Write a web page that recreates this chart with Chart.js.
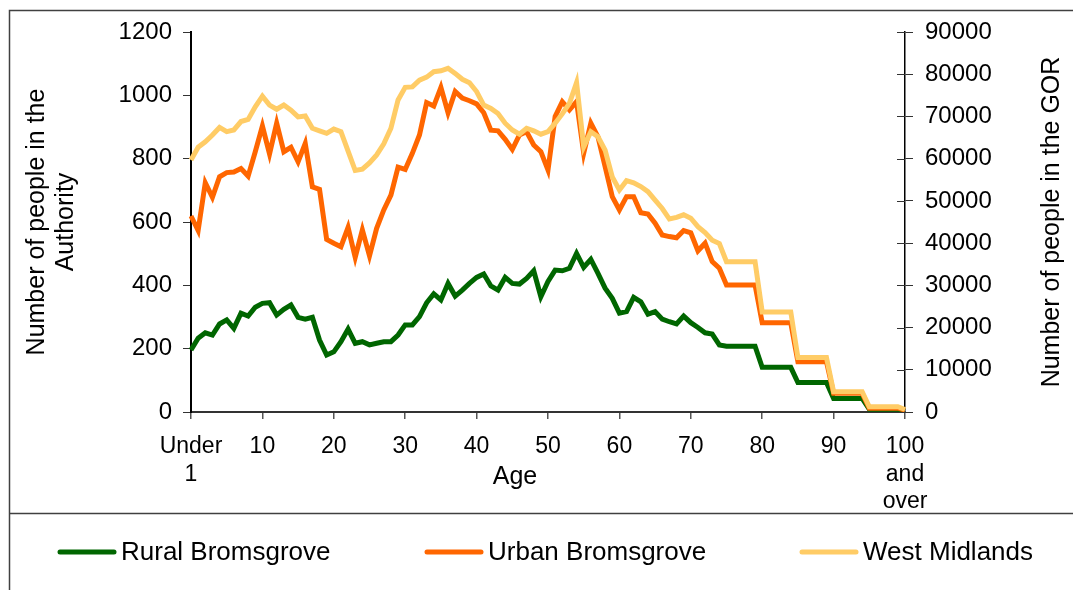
<!DOCTYPE html>
<html>
<head>
<meta charset="utf-8">
<script src="https://cdn.jsdelivr.net/npm/chart.js@4.4.1/dist/chart.umd.min.js"></script>
<style>
html,body{margin:0;padding:0;background:#fff;}
#wrap{width:1073px;height:590px;position:relative;}
</style>
</head>
<body>
<div id="wrap"><canvas id="c" width="1073" height="590"></canvas></div>
<script>
// ---- DATA ----
const categories = ['Under 1'];
for (let i = 1; i < 100; i++) categories.push(String(i));
categories.push('100 and over');

// tick labels shown every 10th category
const xTickLabels = [['Under','1'],'10','20','30','40','50','60','70','80','90',['100','and','over']];
const leftTicks = [0,200,400,600,800,1000,1200];
const rightTicks = [0,10000,20000,30000,40000,50000,60000,70000,80000,90000];

const seriesNames = ['Rural Bromsgrove','Urban Bromsgrove','West Midlands'];
const xTitle = 'Age';
const leftTitle = ['Number of people in the', 'Authority'];
const rightTitle = 'Number of people in the GOR';

const rural = [
 196,233,250,243,278,291,264,312,303,331,
 343,345,306,324,338,299,293,299,227,180,
 190,222,262,217,222,212,217,222,222,243,
 275,275,301,345,373,354,406,366,385,406,
 425,436,398,385,425,406,404,422,446,364,
 412,448,446,454,501,457,482,438,391,359,
 312,317,362,348,309,317,293,285,278,303,
 282,267,250,246,212,208,208,208,208,208,
 141,141,141,141,141,93,93,93,93,93,
 43,43,43,43,43,9,9,9,9,9,
 4
];
const urban = [
 619,573,724,678,743,756,758,769,745,822,
 903,815,912,822,836,790,848,711,703,545,
 533,522,583,488,575,493,580,638,685,773,
 766,817,875,977,966,1025,945,1012,991,983,
 973,945,890,888,861,829,875,885,843,822,
 764,933,980,954,980,817,912,869,775,680,
 638,680,680,629,625,596,559,554,550,573,
 566,509,533,475,454,401,401,401,401,401,
 282,282,282,282,282,159,159,159,159,159,
 59,59,59,59,59,12,12,12,12,12,
 6
];
const westMidlands = [
 59700,62700,64000,65600,67400,66400,66800,68800,69300,72300,
 74800,72700,71700,72700,71500,69900,70100,67200,66600,66000,
 67000,66400,61800,57200,57500,59000,60900,63500,67200,73900,
 76900,77000,78600,79300,80600,80800,81400,80200,78800,78000,
 75900,72700,71900,70700,68400,66800,65800,67200,66600,65800,
 66400,68400,70600,73100,78000,62800,66400,65200,62000,55700,
 52600,54800,54300,53400,52200,50200,48200,45700,46100,46700,
 45900,43900,42500,40700,39900,35600,35600,35600,35600,35600,
 23700,23700,23700,23700,23700,12900,12900,12900,12900,12900,
 4800,4800,4800,4800,4800,1250,1250,1250,1250,1250,
 600
];

// ---- STYLE ----
const FONT = "'Liberation Sans', Arial, Helvetica, sans-serif";
Chart.defaults.font.family = FONT;
Chart.defaults.color = '#000';
const colors = ['#006600', '#FF6600', '#FFCC66'];

const framePlugin = {
  id: 'framePlugin',
  afterDraw(chart) {
    const ctx = chart.ctx;
    const ca = chart.chartArea;
    ctx.save();
    // outer frame + separator
    ctx.strokeStyle = '#404040';
    ctx.lineWidth = 1.5;
    ctx.beginPath();
    ctx.moveTo(9.5, 590); ctx.lineTo(9.5, 10.5); ctx.lineTo(1073, 10.5);
    ctx.moveTo(9.5, 513.5); ctx.lineTo(1073, 513.5);
    ctx.stroke();
    // inward half of the right axis cross ticks
    const s = chart.scales.y2;
    ctx.strokeStyle = '#333';
    ctx.lineWidth = 1;
    ctx.beginPath();
    s.ticks.forEach(t => {
      const y = Math.round(s.getPixelForValue(t.value)) + 0.5;
      ctx.moveTo(s.left - 8, y); ctx.lineTo(s.left, y);
    });
    ctx.stroke();
    // axis titles
    ctx.fillStyle = '#000';
    ctx.font = '25px ' + FONT;
    ctx.textAlign = 'center';
    ctx.textBaseline = 'middle';
    ctx.fillText(xTitle, 515, 477);
    ctx.save();
    ctx.translate(1052, (ca.top + ca.bottom) / 2);
    ctx.rotate(-Math.PI / 2);
    ctx.fillText(rightTitle, 0, 0);
    ctx.restore();
    // legend
    const lx = [58, 425, 800];
    const ly = 552;
    ctx.font = '26px ' + FONT;
    ctx.textBaseline = 'middle';
    ctx.textAlign = 'left';
    chart.data.datasets.forEach((ds, i) => {
      ctx.strokeStyle = ds.borderColor;
      ctx.lineWidth = 5;
      ctx.lineCap = 'round';
      ctx.beginPath();
      ctx.moveTo(lx[i] + 2, ly); ctx.lineTo(lx[i] + 56, ly);
      ctx.stroke();
      ctx.fillStyle = '#000';
      ctx.fillText(ds.label, lx[i] + 63, ly + 1);
    });
    ctx.restore();
  }
};

new Chart(document.getElementById('c'), {
  type: 'line',
  data: {
    labels: categories,
    datasets: [
      { label: seriesNames[0], data: rural, yAxisID: 'y', borderColor: colors[0], backgroundColor: colors[0], borderWidth: 5, pointRadius: 0, tension: 0, order: 3 },
      { label: seriesNames[1], data: urban, yAxisID: 'y', borderColor: colors[1], backgroundColor: colors[1], borderWidth: 5, pointRadius: 0, tension: 0, order: 2 },
      { label: seriesNames[2], data: westMidlands, yAxisID: 'y2', borderColor: colors[2], backgroundColor: colors[2], borderWidth: 5, pointRadius: 0, tension: 0, order: 1 }
    ]
  },
  options: {
    responsive: false,
    animation: false,
    devicePixelRatio: 1,
    layout: { padding: { top: 32, left: 0, right: 0, bottom: 0 } },
    plugins: { legend: { display: false }, tooltip: { enabled: false } },
    scales: {
      x: {
        type: 'category',
        offset: false,
        grid: {
          drawOnChartArea: false, drawTicks: true, tickLength: 7, lineWidth: 1.5,
          color: ctx => (ctx.index % 10 === 0 ? '#555' : 'rgba(0,0,0,0)')
        },
        border: { display: true, color: '#333', width: 2 },
        ticks: {
          autoSkip: false, maxRotation: 0, minRotation: 0, padding: 14,
          font: { size: 23, lineHeight: 1.2 }, color: '#000',
          callback: (v, i) => (i % 10 === 0 ? xTickLabels[i / 10] : '')
        },
        title: { display: false },
        afterFit: s => { s.height = 178; }
      },
      y: {
        position: 'left', min: 0, max: 1200,
        afterBuildTicks: s => { s.ticks = leftTicks.map(v => ({ value: v })); },
        grid: { drawOnChartArea: false, drawTicks: true, tickLength: 8, color: '#333', lineWidth: 1 },
        border: { display: true, color: '#000', width: 2 },
        ticks: { padding: 11, font: { size: 24 }, color: '#000', callback: v => String(v) },
        title: { display: true, text: leftTitle, font: { size: 25, lineHeight: 1.15 }, color: '#000', padding: { top: 23 } },
        afterFit: s => { s.width = 191; }
      },
      y2: {
        position: 'right', min: 0, max: 90000,
        afterBuildTicks: s => { s.ticks = rightTicks.map(v => ({ value: v })); },
        grid: { drawOnChartArea: false, drawTicks: true, tickLength: 8, color: '#333', lineWidth: 1 },
        border: { display: true, color: '#000', width: 1.5 },
        ticks: { padding: 12, font: { size: 24 }, color: '#000', callback: v => String(v) },
        title: { display: false },
        afterFit: s => { s.width = 168; }
      }
    }
  },
  plugins: [framePlugin]
});
</script>
</body>
</html>
